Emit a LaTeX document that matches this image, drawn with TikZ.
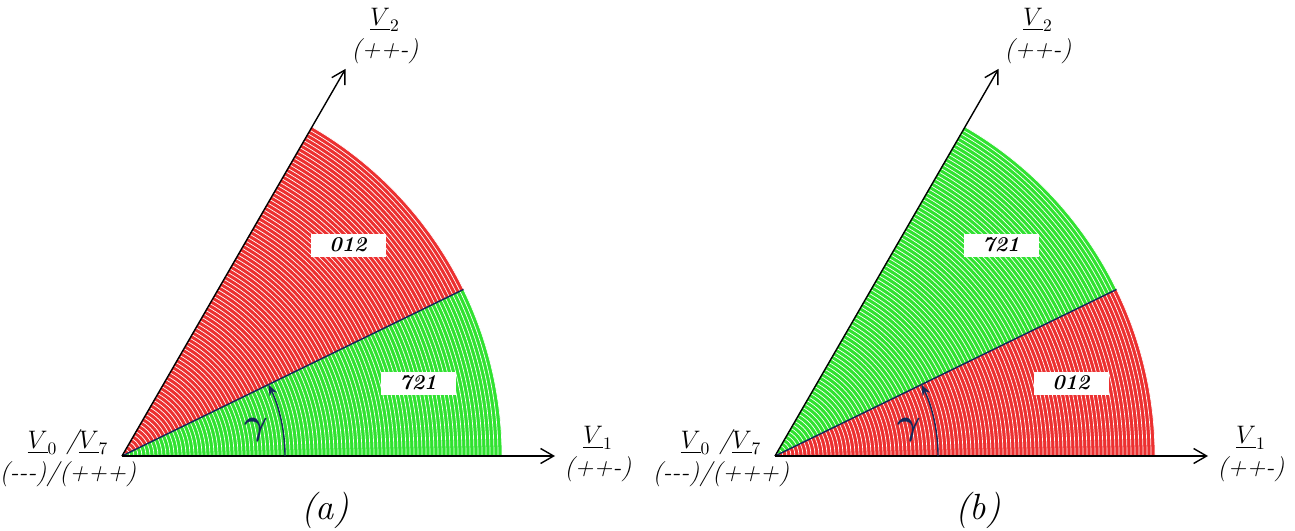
\documentclass[tikz,border=0pt]{standalone}
\usepackage{amsmath,amssymb}
\usepackage{xcolor}
\usepackage{tikz}
\usetikzlibrary{arrows.meta,positioning}
\definecolor{secred}{RGB}{236,48,48}
\definecolor{secgreen}{RGB}{48,226,48}
\definecolor{gamcol}{RGB}{20,40,90}

\begin{document}
\begin{tikzpicture}[
  x=0.2mm, y=0.2mm,
  axis/.style={-{Straight Barb[length=2.6mm,width=3mm]}, thick},
  split/.style={draw=gamcol, thick},
  tag/.style={rectangle, fill=white, minimum width=15mm, minimum height=4.6mm,
    inner sep=0pt, font=\large\bfseries\itshape},
  vlab/.style={align=center, font=\Large\itshape, inner sep=1pt},
  hatch/.style={white, line width=0.4pt},
  gam/.style={draw=gamcol, thick, -{Stealth[length=2.2mm]}}
]
\useasboundingbox (0,0) rectangle (1295,530);
\foreach \sx/\lowc/\highc/\lowlab/\highlab/\pan in
  {0/secgreen/secred/721/012/a, 653/secred/secgreen/012/721/b}{
\begin{scope}[shift={(\sx,0)}]
\coordinate (O\pan) at (122,74);
\fill[\lowc] (O\pan) -- ++(0:380) arc[start angle=0, end angle=26, radius=380] -- cycle;
\fill[\highc] (O\pan) -- ++(26:380) arc[start angle=26, end angle=60, radius=380] -- cycle;
\foreach \r in {4,8,...,380}
  \draw[hatch] (O\pan) ++(0:\r) arc[start angle=0, end angle=60, radius=\r];
\path (O\pan) ++(26:380) coordinate (B\pan);
\path (O\pan) ++(0:433) coordinate (X\pan);
\path (O\pan) ++(60:447) coordinate (Y\pan);
\draw[split] (O\pan) -- (B\pan);
\draw[axis] (O\pan) -- (X\pan);
\draw[axis] (O\pan) -- (Y\pan);
\draw[gam] (O\pan) ++(0:163) arc[start angle=0, end angle=26, radius=163];
\node[text=gamcol, font=\huge] (g\pan) at (256,100) {$\boldsymbol{\gamma}$};
\node[tag] (hi\pan) at (348,285) {\highlab};
\node[tag] (lo\pan) at (418,147) {\lowlab};
\node[vlab] (v0\pan) at (68,72) {$\underline{V}_0$ /$\underline{V}_7$\\(-{}-{}-)/(+++)};
\node[vlab] (v1\pan) at (598,76) {$\underline{V}_1$\\(++-)};
\node[vlab] (v2\pan) at (385,494) {$\underline{V}_2$\\(++-)};
\node[font=\huge\itshape] (cap\pan) at (325,20) {(\pan)};
\end{scope}
}
\end{tikzpicture}
\end{document}
